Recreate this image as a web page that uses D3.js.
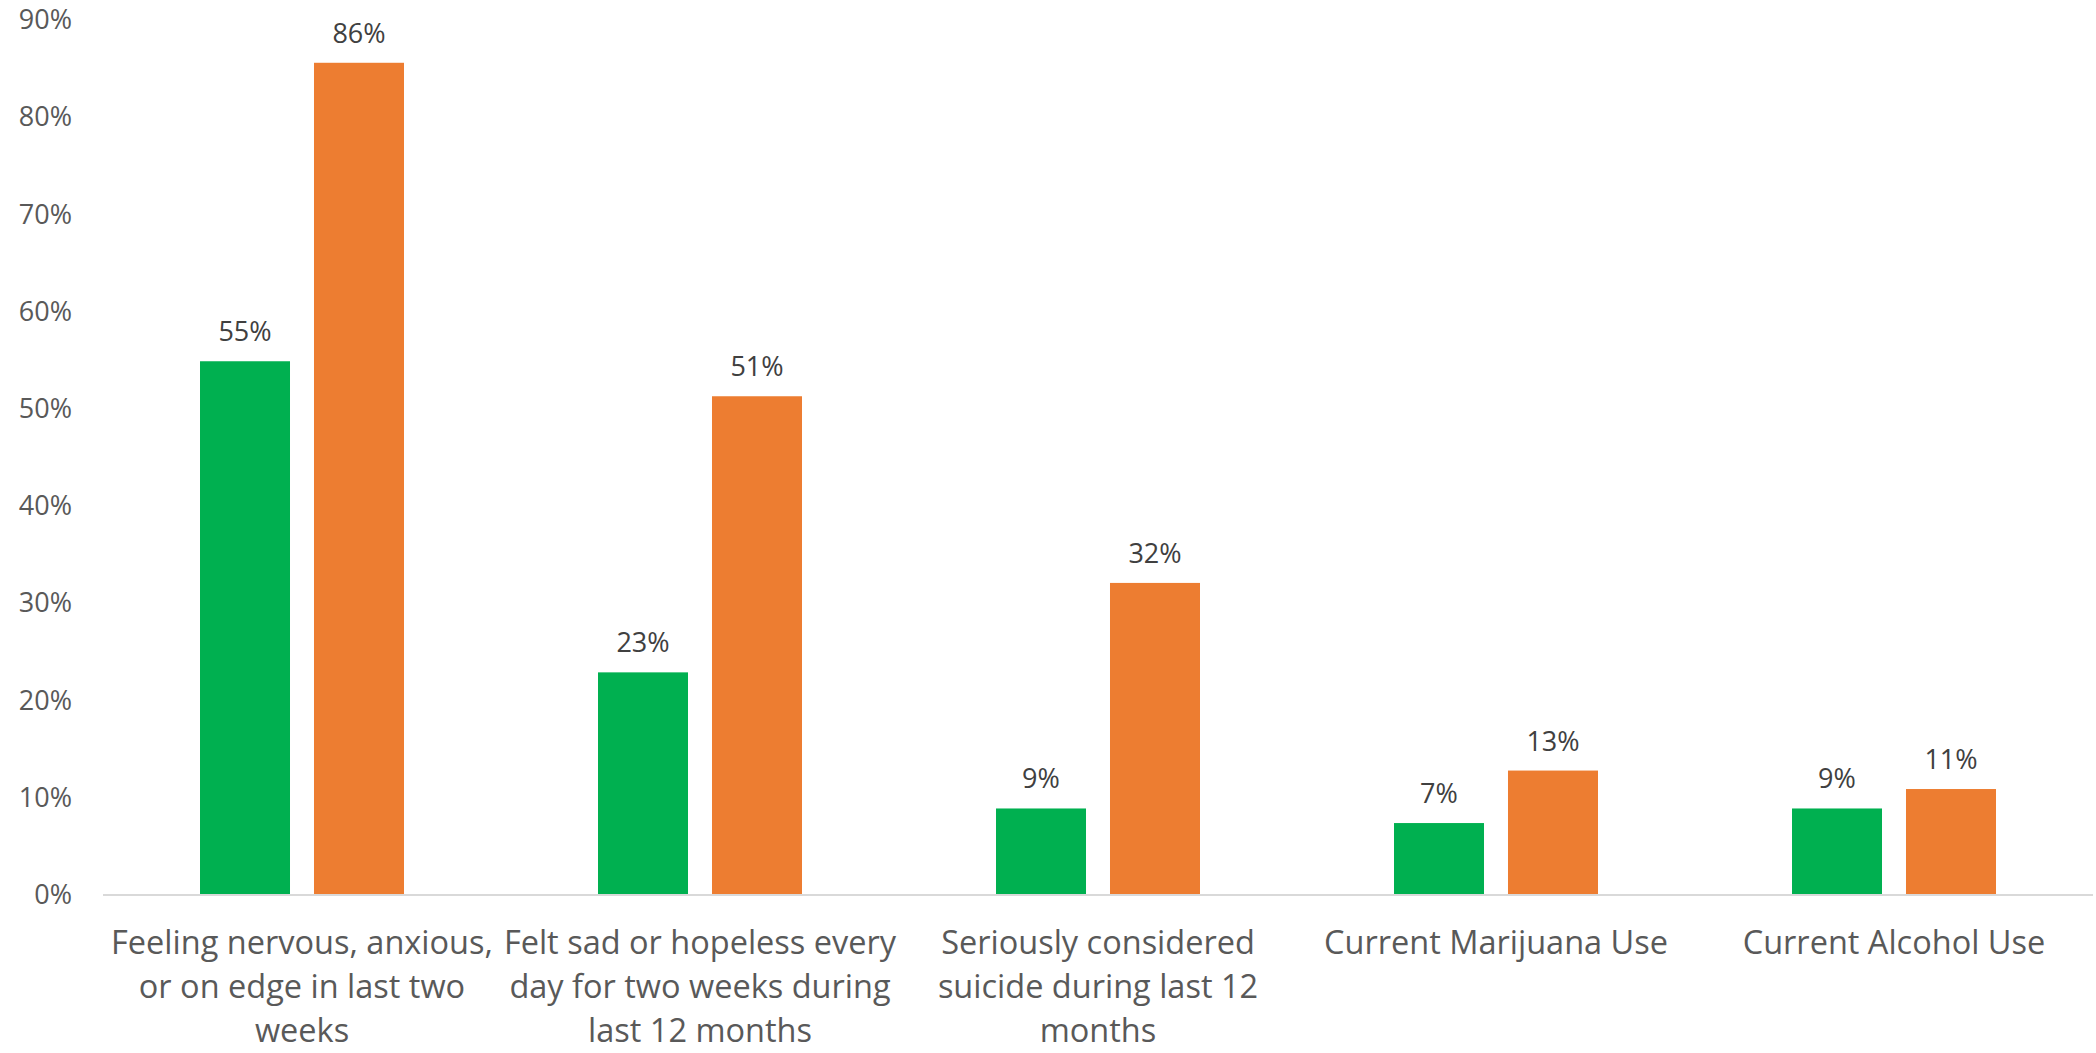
<!DOCTYPE html>
<html>
<head>
<meta charset="utf-8">
<script src="https://cdn.jsdelivr.net/npm/d3@7"></script>
<style>
  body { margin: 0; background: #fff; }
  text { font-family: 'Open Sans', sans-serif; }
</style>
</head>
<body>
<div id="chart"></div>
<script>
const categories = [
  'Feeling nervous, anxious, or on edge in last two weeks',
  'Felt sad or hopeless every day for two weeks during last 12 months',
  'Seriously considered suicide during last 12 months',
  'Current Marijuana Use',
  'Current Alcohol Use'
]
const seriesNames = ['group1', 'group2']
const greenValues = [54.9, 22.9, 8.9, 7.4, 8.9]
const orangeValues = [85.6, 51.3, 32.1, 12.8, 10.9]
const valueLabels = [['55%', '86%'], ['23%', '51%'], ['9%', '32%'], ['7%', '13%'], ['9%', '11%']]
const yTicks = [0, 10, 20, 30, 40, 50, 60, 70, 80, 90]

const width = 2096, height = 1053
const margin = {top: 20, right: 3, bottom: 158, left: 103}
const colors = ['#00B050', '#ED7D31']

const svg = d3.select('#chart').append('svg')
  .attr('width', width)
  .attr('height', height)

const x0 = d3.scaleBand()
  .domain(categories)
  .range([margin.left, width - margin.right])
  .padding(0)
const x1 = d3.scaleBand()
  .domain(seriesNames)
  .range([0, x0.bandwidth()])
  .paddingInner(0.2105)
  .paddingOuter(0.851)
const y = d3.scaleLinear()
  .domain([0, 90])
  .range([height - margin.bottom, margin.top])

// y axis labels only
const yAxis = d3.axisLeft(y)
  .tickValues(yTicks)
  .tickSize(0)
  .tickPadding(31)
  .tickFormat(d => d + '%')
svg.append('g')
  .attr('transform', `translate(${margin.left},0)`)
  .call(yAxis)
  .call(g => g.select('.domain').remove())
  .selectAll('text')
  .style('font-family', "'Open Sans', sans-serif")
  .style('font-size', '27px')
  .attr('fill', '#595959')

const rows = categories.map((c, i) => ({cat: c, vals: [greenValues[i], orangeValues[i]], labels: valueLabels[i]}))

const groups = svg.selectAll('.grp').data(rows)
  .enter().append('g')
  .attr('class', 'grp')
  .attr('transform', d => `translate(${x0(d.cat)},0)`)

groups.selectAll('rect')
  .data(d => d.vals.map((v, j) => ({key: seriesNames[j], v: v, j: j})))
  .enter().append('rect')
  .attr('x', d => x1(d.key))
  .attr('y', d => y(d.v))
  .attr('width', x1.bandwidth())
  .attr('height', d => y(0) - y(d.v))
  .attr('fill', d => colors[d.j])

groups.selectAll('.val')
  .data(d => d.vals.map((v, j) => ({key: seriesNames[j], v: v, label: d.labels[j]})))
  .enter().append('text')
  .attr('class', 'val')
  .attr('x', d => x1(d.key) + x1.bandwidth() / 2)
  .attr('y', d => y(d.v) - 20)
  .attr('text-anchor', 'middle')
  .style('font-size', '27px')
  .attr('fill', '#404040')
  .text(d => d.label)

// baseline
svg.append('line')
  .attr('x1', margin.left)
  .attr('x2', width - margin.right)
  .attr('y1', y(0))
  .attr('y2', y(0))
  .attr('stroke', '#d9d9d9')
  .attr('stroke-width', 2)

// category labels, wrapped to the band width
const catG = svg.selectAll('.cat').data(categories)
  .enter().append('text')
  .attr('class', 'cat')
  .attr('x', d => x0(d) + x0.bandwidth() / 2)
  .attr('y', y(0) + 59)
  .attr('text-anchor', 'middle')
  .style('font-size', '32.5px')
  .attr('fill', '#595959')

catG.each(function(d) {
  const t = d3.select(this)
  const words = d.split(' ')
  const maxW = x0.bandwidth()
  let line = []
  let tspan = t.append('tspan').attr('x', x0(d) + x0.bandwidth() / 2).attr('dy', 0)
  words.forEach(w => {
    line.push(w)
    tspan.text(line.join(' '))
    if (tspan.node().getComputedTextLength() > maxW && line.length > 1) {
      line.pop()
      tspan.text(line.join(' '))
      line = [w]
      tspan = t.append('tspan')
        .attr('x', x0(d) + x0.bandwidth() / 2)
        .attr('dy', 44)
        .text(w)
    }
  })
})
</script>
</body>
</html>
